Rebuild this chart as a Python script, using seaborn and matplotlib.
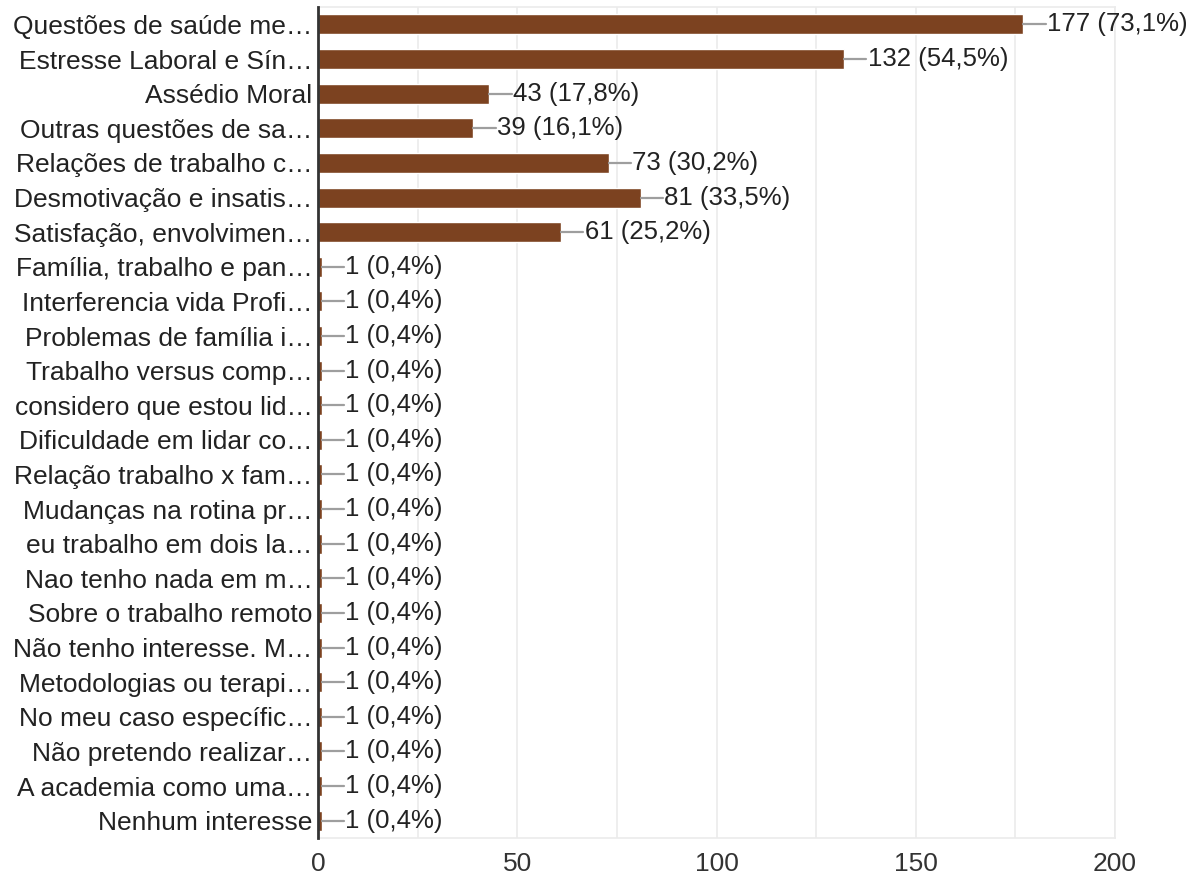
import pandas as pd
import matplotlib.pyplot as plt
import seaborn as sns

categorias = [
    "Questões de saúde me…", "Estresse Laboral e Sín…", "Assédio Moral",
    "Outras questões de sa…", "Relações de trabalho c…", "Desmotivação e insatis…",
    "Satisfação, envolvimen…", "Família, trabalho e pan…", "Interferencia vida Profi…",
    "Problemas de família i…", "Trabalho versus comp…", "considero que estou lid…",
    "Dificuldade em lidar co…", "Relação trabalho x fam…", "Mudanças na rotina pr…",
    "eu trabalho em dois la…", "Nao tenho nada em m…", "Sobre o trabalho remoto",
    "Não tenho interesse. M…", "Metodologias ou terapi…", "No meu caso específic…",
    "Não pretendo realizar…", "A academia como uma…", "Nenhum interesse",
]
respostas = [177, 132, 43, 39, 73, 81, 61] + [1] * 17
percentuais = ["73,1%", "54,5%", "17,8%", "16,1%", "30,2%", "33,5%", "25,2%"] + ["0,4%"] * 17

sns.set_style("white")
plt.rcParams['font.family'] = ['Liberation Sans', 'DejaVu Sans']

df = pd.DataFrame({"categoria": categorias, "respostas": respostas})

fig = plt.figure(figsize=(11.99, 8.82), dpi=100)
ax = fig.add_axes([0.2652, 0.0499, 0.6648, 0.942])

sns.barplot(data=df, y="categoria", x="respostas", orient="h", color="#7c4220",
            saturation=1, width=0.58, ax=ax)

for i, (v, p) in enumerate(zip(respostas, percentuais)):
    ax.plot([v, v + 5.6], [i, i], color="#9e9e9e", lw=1.6, zorder=3)
    ax.text(v + 5.9, i, f"{v} ({p})", va="center", ha="left", fontsize=18.5, color="#222222")

ax.set_ylim(len(categorias) - 0.5, -0.5)
ax.set_xlim(0, 200)
ax.set_xticks([0, 50, 100, 150, 200])
ax.set_xticks([25, 75, 125, 175], minor=True)
ax.grid(axis="x", which="both", color="#ebebeb", lw=1.2)
ax.set_axisbelow(True)
ax.tick_params(axis="x", which="both", length=0, pad=10, labelsize=19, labelcolor="#333333")
ax.tick_params(axis="y", length=0, pad=4, labelsize=19, labelcolor="#222222")
ax.set_xlabel("")
ax.set_ylabel("")

for s in ["top", "right", "bottom"]:
    ax.spines[s].set_color("#ebebeb")
    ax.spines[s].set_linewidth(1.2)
ax.spines["left"].set_color("#333333")
ax.spines["left"].set_linewidth(2)
ax.spines["left"].set_zorder(4)

fig.savefig("out.png", dpi=100)
